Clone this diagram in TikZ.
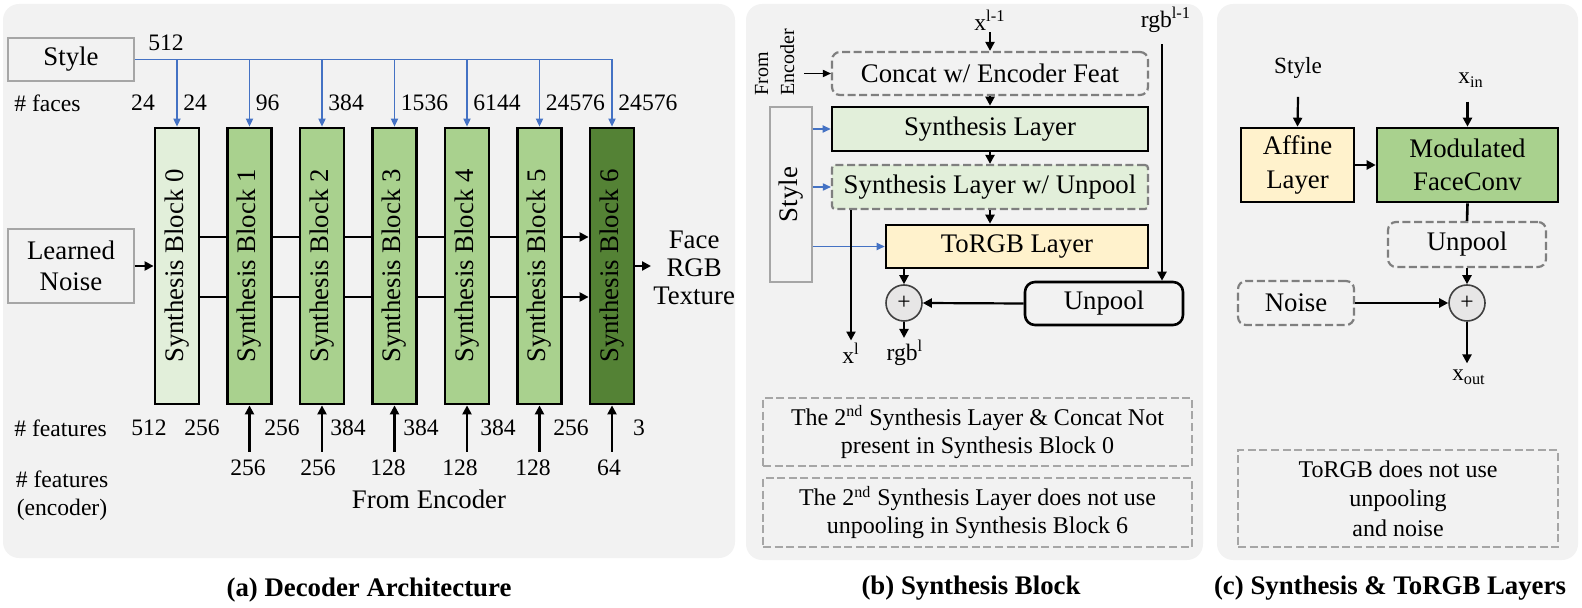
\documentclass[tikz,border=0pt]{standalone}
\usepackage{fontspec}
\setmainfont{Liberation Serif}
\usetikzlibrary{arrows.meta,positioning}

\definecolor{dcPanel}{HTML}{F2F2F2}
\definecolor{dcLight}{HTML}{E2EFDA}
\definecolor{dcMid}{HTML}{A9D18E}
\definecolor{dcDark}{HTML}{548235}
\definecolor{dcRGB}{HTML}{FFF2CC}
\definecolor{dcBlue}{HTML}{4472C4}
\definecolor{dcGray}{HTML}{7F7F7F}
\definecolor{dcNote}{HTML}{A6A6A6}
\definecolor{dcPlus}{HTML}{E7E6E6}

\newcommand{\boxfont}{\fontsize{13.4}{15.5}\selectfont}
\newcommand{\numfont}{\fontsize{11.8}{14}\selectfont}
\newcommand{\notefont}{\fontsize{12}{14}\selectfont}

\tikzset{
  panel/.style={fill=dcPanel, rounded corners=8pt},
  inbox/.style={draw=dcNote, line width=0.6pt, font=\boxfont, align=center, inner sep=0pt},
  synblock/.style={draw=black, line width=1.4pt, minimum width=22pt, minimum height=138pt,
    font=\boxfont, inner sep=0pt},
  layer/.style={draw=black, line width=1.3pt, font=\boxfont, align=center, inner sep=0pt},
  optlayer/.style={draw=dcGray, dash pattern=on 4pt off 1.8pt, line width=1.1pt,
    rounded corners=4pt, font=\boxfont, align=center, inner sep=0pt},
  note/.style={draw=dcNote, dash pattern=on 4pt off 1.8pt, line width=1.1pt,
    font=\notefont, align=center, inner sep=0pt},
  plus/.style={circle, draw=black!75, fill=dcPlus, line width=0.8pt, minimum size=18pt,
    inner sep=0pt, font=\numfont},
  lbl/.style={font=\numfont, inner sep=1pt},
  flow/.style={-{Triangle[length=4.5pt,width=4.5pt]}, line width=1.1pt},
  link/.style={line width=1.3pt},
  stylearrow/.style={-{Triangle[length=4pt,width=3.6pt]}, dcBlue, line width=0.6pt},
  caption/.style={font=\boxfont\bfseries}
}

\begin{document}
\begin{tikzpicture}[x=0.5pt, y=-0.5pt]
  \useasboundingbox (0,0) rectangle (1582,608);
  \fill[panel] (3,4) rectangle (735,558);
  \fill[panel] (746,4) rectangle (1203,560);
  \fill[panel] (1217,4) rectangle (1578,560);

  % (a) decoder architecture
  \node[inbox, minimum width=63pt, minimum height=21.5pt] (style) at (71,59.5) {Style};
  \node[inbox, minimum width=63pt, minimum height=37pt] (noise) at (71,266) {Learned\\Noise};
  \foreach \i/\fc in {0/dcLight,1/dcMid,2/dcMid,3/dcMid,4/dcMid,5/dcMid,6/dcDark}
    \node[synblock, fill=\fc] (b\i) at (177+72.5*\i,266) {\rotatebox{90}{Synthesis Block \i}};

  \node[lbl] at (166,43) {512};
  \draw[dcBlue, line width=0.6pt] (style.east) -- (style.east -| b6.north);
  \foreach \i in {0,...,6}
    \draw[stylearrow] (b\i.north |- style.east) -- (b\i.north);

  \node[lbl, anchor=west] (faces) at (12,103) {\# faces};
  \node[lbl] at (143,103) {24};
  \foreach \i/\n in {0/24,1/96,2/384,3/1536,4/6144,5/24576,6/24576}
    \node[lbl, anchor=west] (f\i) at (177+72.5*\i+4,103) {\n};

  \draw[flow] (noise.east) -- (noise.east -| b0.west);
  \foreach \i/\j in {0/1,1/2,2/3,3/4,4/5} {
    \draw[link] ([yshift=14.5pt]b\i.east) -- ([yshift=14.5pt]b\j.west);
    \draw[link] ([yshift=-15.5pt]b\i.east) -- ([yshift=-15.5pt]b\j.west);
  }
  \draw[link, flow] ([yshift=14.5pt]b5.east) -- ([yshift=14.5pt]b6.west);
  \draw[link, flow] ([yshift=-15.5pt]b5.east) -- ([yshift=-15.5pt]b6.west);

  \node[font=\fontsize{13.4}{14}\selectfont, align=center, inner sep=1pt, anchor=west]
    (facergb) at (651,268) {Face\\RGB\\Texture};
  \draw[flow] (b6.east) -- (b6.east -| facergb.west);

  \node[lbl, anchor=west] (feat) at (12,428) {\# features};
  \node[lbl] at (149,428) {512};
  \node[lbl] at (202,428) {256};
  \foreach \n/\xx in {256/282,384/348,384/421,384/498,256/571,3/639}
    \node[lbl] at (\xx,428) {\n};
  \foreach \i/\n/\xx in {1/256/248,2/256/318,3/128/388,4/128/460,5/128/533,6/64/609} {
    \node[lbl, inner ysep=4pt] (e\i) at (\xx,468) {\n};
    \draw[flow] (b\i.south |- e\i.north) -- (b\i.south);
  }
  \node[lbl, align=center] (featenc) at (62,496) {\# features\\(encoder)};
  \node[font=\boxfont] (fromenc) at (429,499) {From Encoder};
  \node[caption] at (369,590) {(a) Decoder Architecture};

  % (b) synthesis block
  \node[lbl] (xprev) at (990,20) {x\textsuperscript{l-1}};
  \node[lbl] (rgbprev) at (1166,20) {rgb\textsuperscript{l-1}};
  \node[font=\fontsize{10}{13}\selectfont, inner sep=1pt] (encin) at (776,62)
    {\rotatebox{90}{\begin{tabular}{@{}l@{}}From\\Encoder\end{tabular}}};
  \node[optlayer, minimum width=158pt, minimum height=21.5pt] (concat) at (990,73.5) {Concat w/ Encoder Feat};
  \node[layer, fill=dcLight, minimum width=158pt, minimum height=22pt] (synth1) at (990,129) {Synthesis Layer};
  \node[optlayer, rounded corners=1.5pt, fill=dcLight, minimum width=158pt, minimum height=22pt]
    (synth2) at (990,187) {Synthesis Layer w/ Unpool};
  \node[layer, fill=dcRGB, minimum width=131pt, minimum height=21.5pt] (torgb) at (1017,246.5) {ToRGB Layer};
  \node[inbox, minimum width=21pt, minimum height=87.5pt] (styleb) at (791,194.5) {\rotatebox{90}{Style}};
  \node[plus] (plus1) at (904,303) {+};
  \node[layer, rounded corners=5pt, minimum width=79pt, minimum height=21.5pt] (unpool1) at (1104,303.5) {Unpool};
  \node[lbl] (xl) at (851,353) {x\textsuperscript{l}};
  \node[lbl] (rgbl) at (905,353) {rgb\textsuperscript{l}};

  \draw[flow] (concat.north |- xprev.south) -- (concat.north);
  \draw[-{Triangle[length=4pt,width=3.6pt]}, line width=0.6pt] (encin.east |- concat.west) -- (concat.west);
  \draw[flow] (concat.south) -- (synth1.north);
  \draw[flow] (synth1.south) -- (synth2.north);
  \draw[flow] (synth2.south) -- (synth2.south |- torgb.north);
  \draw[stylearrow] (styleb.east |- synth1.west) -- (synth1.west);
  \draw[stylearrow] (styleb.east |- synth2.west) -- (synth2.west);
  \draw[stylearrow] (styleb.east |- torgb.west) -- (torgb.west);
  \draw[flow] (xl.north |- synth2.south) -- (xl.north);
  \draw[flow] (plus1.north |- torgb.south) -- (plus1.north);
  \draw[flow] (unpool1.west) -- (plus1.east);
  \draw[flow] ([xshift=-2pt,yshift=-4.5pt]rgbprev.south) -- ([xshift=-2pt]rgbprev.south |- unpool1.north);
  \draw[flow] (plus1.south) -- (plus1.south |- rgbl.north);

  \node[note, minimum width=214.5pt, minimum height=34pt] (note1) at (977.5,432)
    {The 2\textsuperscript{nd} Synthesis Layer \& Concat Not\\present in Synthesis Block 0};
  \node[note, minimum width=214.5pt, minimum height=34.5pt] (note2) at (977.5,512.5)
    {The 2\textsuperscript{nd} Synthesis Layer does not use\\unpooling in Synthesis Block 6};
  \node[caption] at (971,588) {(b) Synthesis Block};

  % (c) synthesis & torgb layers
  \node[font=\fontsize{11.6}{14}\selectfont, inner sep=1pt] (stylec) at (1298,68) {Style};
  \node[font=\fontsize{11.6}{14}\selectfont, inner sep=1pt] (xin) at (1471,80) {x\textsubscript{in}};
  \node[layer, fill=dcRGB, minimum width=56.5pt, minimum height=37pt,
    font=\fontsize{13.4}{17}\selectfont] (affine) at (1297.5,165) {Affine\\Layer};
  \node[layer, fill=dcMid, minimum width=90.5pt, minimum height=37pt,
    font=\fontsize{13.4}{16.5}\selectfont] (modconv) at (1467.5,165) {Modulated\\FaceConv};
  \node[optlayer, minimum width=79pt, minimum height=22.5pt] (unpool2) at (1467,244.5) {Unpool};
  \node[plus] (plus2) at (1467,303) {+};
  \node[optlayer, minimum width=58pt, minimum height=22pt] (noisec) at (1296,303) {Noise};
  \node[font=\fontsize{11.6}{14}\selectfont, inner sep=3pt] (xout) at (1469,377) {x\textsubscript{out}};

  \draw[flow] ([yshift=-8pt]stylec.south) -- (affine.north);
  \draw[flow] (modconv.north |- xin.south) ++(0,12) -- (modconv.north);
  \draw[flow] (affine.east) -- (modconv.west);
  \draw[link] (modconv.south) -- (unpool2.north);
  \draw[flow] (unpool2.south) -- (plus2.north);
  \draw[flow] (noisec.east) -- (plus2.west);
  \draw[flow] (plus2.south) -- (plus2.south |- xout.north);

  \node[note, minimum width=160pt, minimum height=48.5pt, font=\fontsize{12}{14.75}\selectfont]
    (note3) at (1398,498.5) {ToRGB does not use\\unpooling\\and noise};
  \node[caption] at (1390,588) {(c) Synthesis \& ToRGB Layers};
\end{tikzpicture}
\end{document}
